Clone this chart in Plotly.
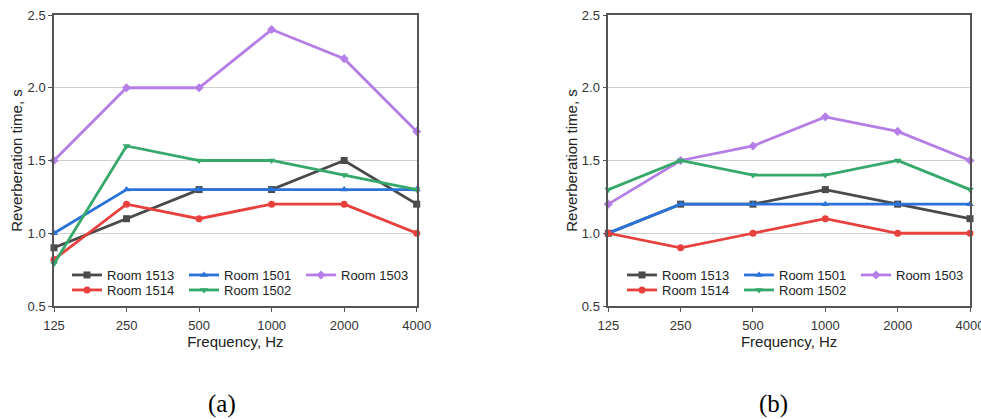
import plotly.graph_objects as go

freq_labels = ["125", "250", "500", "1000", "2000", "4000"]
y_ticks = [0.5, 1.0, 1.5, 2.0, 2.5]

# Panel (a)
a_1513 = [0.9, 1.1, 1.3, 1.3, 1.5, 1.2]
a_1514 = [0.82, 1.2, 1.1, 1.2, 1.2, 1.0]
a_1501 = [1.0, 1.3, 1.3, 1.3, 1.3, 1.3]
a_1502 = [0.79, 1.6, 1.5, 1.5, 1.4, 1.3]
a_1503 = [1.5, 2.0, 2.0, 2.4, 2.2, 1.7]

# Panel (b)
b_1513 = [1.0, 1.2, 1.2, 1.3, 1.2, 1.1]
b_1514 = [1.0, 0.9, 1.0, 1.1, 1.0, 1.0]
b_1501 = [1.0, 1.2, 1.2, 1.2, 1.2, 1.2]
b_1502 = [1.3, 1.5, 1.4, 1.4, 1.5, 1.3]
b_1503 = [1.2, 1.5, 1.6, 1.8, 1.7, 1.5]

series_names = ["Room 1513", "Room 1501", "Room 1503", "Room 1514", "Room 1502"]
colors = {"Room 1513": "#4a4a4a", "Room 1514": "#e8403c", "Room 1501": "#2a73d8",
          "Room 1502": "#35a86a", "Room 1503": "#b57ee6"}
symbols = {"Room 1513": "square", "Room 1514": "circle", "Room 1501": "triangle-up",
           "Room 1502": "triangle-down", "Room 1503": "diamond"}

panel_a = {"Room 1513": a_1513, "Room 1514": a_1514, "Room 1501": a_1501,
           "Room 1502": a_1502, "Room 1503": a_1503}
panel_b = {"Room 1513": b_1513, "Room 1514": b_1514, "Room 1501": b_1501,
           "Room 1502": b_1502, "Room 1503": b_1503}

W, H = 981, 419
ML, MT = 54, 15
MR = W - 970
MB = H - 306
GW = W - ML - MR
GH = H - MT - MB

def px_x(p):
    return (p - ML) / GW

def px_y(p):
    return 1 - (p - MT) / GH

fig = go.Figure()

row1 = ["Room 1513", "Room 1501", "Room 1503"]
legend_map_a = {n: ("legend" if n in row1 else "legend2") for n in series_names}
legend_map_b = {n: ("legend3" if n in row1 else "legend4") for n in series_names}

draw_order = ["Room 1513", "Room 1501", "Room 1503", "Room 1514", "Room 1502"]
for panel, xa, ya, lmap in [(panel_a, "x", "y", legend_map_a), (panel_b, "x2", "y2", legend_map_b)]:
    for n in draw_order:
        fig.add_trace(go.Scatter(
            x=freq_labels, y=panel[n], name=n, mode="lines+markers",
            line=dict(color=colors[n], width=2.8),
            marker=dict(symbol=symbols[n], size=7, color=colors[n]),
            xaxis=xa, yaxis=ya, legend=lmap[n], cliponaxis=False,
        ))

FONT = "Liberation Sans, Arial, sans-serif"
axis_font = dict(family=FONT, size=13, color="#333333")
title_font = dict(family=FONT, size=15, color="#222222")
xcommon = dict(type="category", range=[0, 5], showgrid=False, showline=True, linecolor="#555555",
               linewidth=1.5, mirror=True, ticks="outside", ticklen=4, tickcolor="#555555",
               tickfont=axis_font, zeroline=False, automargin=False, ticklabelstandoff=3,
               title=dict(text="Frequency, Hz", font=title_font, standoff=4))
ycommon = dict(range=[0.5, 2.5], tickvals=y_ticks, tickformat=".1f", showgrid=True,
               gridcolor="#d0d0d0", gridwidth=1, showline=True, linecolor="#555555", linewidth=1.5,
               mirror=True, ticks="outside", ticklen=4, tickcolor="#555555", tickfont=axis_font,
               zeroline=False, automargin=False,
               title=dict(text="Reverberation time, s", font=title_font, standoff=1))

legend_common = dict(orientation="h", font=dict(family=FONT, size=13, color="#222222"),
                     bgcolor="rgba(0,0,0,0)", borderwidth=0, entrywidth=72, entrywidthmode="pixels",
                     itemwidth=30, xanchor="left", yanchor="middle", tracegroupgap=0, traceorder="normal")

fig.update_layout(
    width=W, height=H,
    margin=dict(l=ML, r=MR, t=MT, b=MB, autoexpand=False),
    paper_bgcolor="white", plot_bgcolor="white",
    xaxis=dict(domain=[0, px_x(416.7)], anchor="y", **xcommon),
    yaxis=dict(domain=[0, 1], anchor="x", **ycommon),
    xaxis2=dict(domain=[px_x(608.3), 1], anchor="y2", **xcommon),
    yaxis2=dict(domain=[0, 1], anchor="x2", **ycommon),
    legend=dict(x=px_x(67), y=px_y(275), **legend_common),
    legend2=dict(x=px_x(67), y=px_y(290), **legend_common),
    legend3=dict(x=px_x(622), y=px_y(275), **legend_common),
    legend4=dict(x=px_x(622), y=px_y(290), **legend_common),
    annotations=[
        dict(text="(a)", x=px_x(222), y=px_y(404), xref="paper", yref="paper", showarrow=False,
             xanchor="center", yanchor="middle",
             font=dict(family="Liberation Serif, Times New Roman, serif", size=25, color="#000000")),
        dict(text="(b)", x=px_x(773), y=px_y(404), xref="paper", yref="paper", showarrow=False,
             xanchor="center", yanchor="middle",
             font=dict(family="Liberation Serif, Times New Roman, serif", size=25, color="#000000")),
    ],
)

fig.write_html("out.html", config={"displayModeBar": False},
               post_script="document.body.style.margin='0px';document.body.style.overflow='hidden';")
